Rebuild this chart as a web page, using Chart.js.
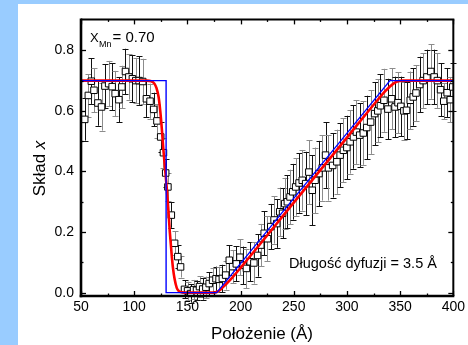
<!DOCTYPE html>
<html>
<head>
<meta charset="utf-8">
<script src="https://cdn.jsdelivr.net/npm/chart.js@4.4.0/dist/chart.umd.min.js"></script>
<style>
  html, body { margin: 0; padding: 0; background: #99ccff; }
  #wrap { position: absolute; left: 18px; top: 4px; width: 450px; height: 341px; background: #fff; }
  canvas { display: block; }
</style>
</head>
<body>
<div id="wrap"><canvas id="profil" width="450" height="341"></canvas></div>
<script>
// punkty pomiarowe
var pozycja = [53.5, 56.9, 59.7, 62.2, 65.9, 69.3, 72.5, 76.0, 79.3, 82.1, 85.6, 88.4, 91.8, 95.0, 98.3,
  101.5, 104.6, 108.0, 111.5, 114.9, 118.3, 121.4, 124.9, 127.5, 129.6, 131.7, 134.9, 138.0, 141.0, 143.6,
  147.3, 150.2, 153.0, 155.8, 158.6, 161.4, 164.4, 167.4, 170.5, 173.7, 176.9, 179.8, 182.9, 186.0, 189.4,
  192.5, 196.0, 199.4, 202.5, 205.5, 209.0, 212.5, 216.0, 219.0, 222.2, 225.3, 228.4, 231.5, 234.0, 236.8,
  239.5, 241.5, 244.0, 246.5, 249.0, 251.8, 255.0, 258.0, 261.2, 264.2, 267.4, 270.0, 273.7, 276.8, 279.9,
  282.6, 286.6, 290.5, 293.6, 296.7, 299.9, 303.0, 306.1, 308.9, 312.0, 315.4, 318.6, 322.3, 326.0, 329.0,
  331.5, 334.8, 338.5, 342.0, 345.2, 348.0, 350.7, 353.5, 356.0, 359.5, 362.3, 364.9, 368.4, 371.6, 375.2,
  378.8, 382.0, 385.0, 388.0, 391.0, 394.2, 397.2, 399.5];
var sklad = [0.572, 0.651, 0.698, 0.668, 0.626, 0.613, 0.682, 0.690, 0.680, 0.657, 0.637, 0.679, 0.730, 0.712, 0.706,
  0.700, 0.700, 0.697, 0.640, 0.632, 0.605, 0.567, 0.514, 0.462, 0.395, 0.349, 0.256, 0.163, 0.119, 0.085,
  0.011, 0.006, -0.003, 0.010, 0.008, 0.020, 0.012, 0.018, 0.030, 0.041, 0.046, 0.044, 0.047, 0.058, 0.107,
  0.086, 0.095, 0.117, 0.090, 0.080, 0.102, 0.098, 0.123, 0.157, 0.196, 0.178, 0.218, 0.240, 0.228, 0.267,
  0.262, 0.294, 0.300, 0.316, 0.333, 0.349, 0.362, 0.371, 0.360, 0.398, 0.338, 0.371, 0.393, 0.412, 0.454,
  0.412, 0.420, 0.432, 0.454, 0.470, 0.479, 0.498, 0.514, 0.530, 0.520, 0.527, 0.545, 0.563, 0.591, 0.600,
  0.617, 0.635, 0.606, 0.640, 0.613, 0.627, 0.615, 0.600, 0.602, 0.635, 0.646, 0.659, 0.687, 0.700, 0.712,
  0.730, 0.712, 0.700, 0.670, 0.632, 0.660, 0.637, 0.679];
var blad = [0.070, 0.070, 0.075, 0.072, 0.075, 0.078, 0.072, 0.075, 0.078, 0.075, 0.075, 0.070, 0.075, 0.075, 0.078,
  0.075, 0.080, 0.075, 0.060, 0.058, 0.055, 0.055, 0.050, 0.050, 0.045, 0.045, 0.042, 0.040, 0.038, 0.035,
  0.030, 0.030, 0.030, 0.032, 0.032, 0.035, 0.035, 0.035, 0.038, 0.040, 0.040, 0.042, 0.045, 0.048, 0.050,
  0.055, 0.058, 0.060, 0.062, 0.065, 0.065, 0.068, 0.070, 0.070, 0.072, 0.075, 0.075, 0.078, 0.080, 0.080,
  0.082, 0.085, 0.088, 0.090, 0.092, 0.095, 0.098, 0.100, 0.105, 0.105, 0.115, 0.108, 0.108, 0.108, 0.108,
  0.108, 0.106, 0.106, 0.105, 0.105, 0.105, 0.105, 0.105, 0.105, 0.105, 0.105, 0.105, 0.105, 0.104, 0.104,
  0.104, 0.104, 0.100, 0.100, 0.100, 0.100, 0.098, 0.095, 0.095, 0.095, 0.095, 0.092, 0.092, 0.090, 0.090,
  0.090, 0.090, 0.090, 0.088, 0.060, 0.080, 0.075, 0.080];

// dopasowanie (czerwona) i profil prostokatny (niebieska)
var modelX = [50, 112, 116, 119, 121, 123, 124.5, 126, 127.5, 129, 130.5, 132, 133.5, 135, 136.5, 138, 140, 142, 145, 150,
  175, 178, 181, 184, 188, 192, 200, 250, 300, 330, 336, 340, 344, 348, 352, 400];
var modelY = [0.70, 0.70, 0.698, 0.69, 0.675, 0.645, 0.60, 0.54, 0.47, 0.41, 0.35, 0.28, 0.20, 0.135, 0.08, 0.045, 0.016, 0.005, 0.001, 0,
  0, 0.003, 0.010, 0.020, 0.034, 0.049, 0.082, 0.297, 0.512, 0.641, 0.665, 0.679, 0.691, 0.698, 0.70, 0.70];
var krokX = [50, 130, 130, 177.6, 340.4, 400];
var krokY = [0.70, 0.70, 0, 0, 0.70, 0.70];

var xTicks = [50, 100, 150, 200, 250, 300, 350, 400];
var xMinor = [75, 125, 175, 225, 275, 325, 375];
var yTicks = [0, 0.2, 0.4, 0.6, 0.8];
var yMinor = [0.1, 0.3, 0.5, 0.7];

var FONT = '"Liberation Sans", Arial, sans-serif';

function pary(xs, ys) {
  var out = [];
  for (var i = 0; i < xs.length; i++) out.push({x: xs[i], y: ys[i]});
  return out;
}

function linia(ctx, x1, y1, x2, y2) {
  ctx.beginPath();
  ctx.moveTo(x1, y1);
  ctx.lineTo(x2, y2);
  ctx.stroke();
}

var dodatki = {
  id: 'dodatki',
  beforeDatasetsDraw: function(chart) {
    var ctx = chart.ctx, sy = chart.scales.y;
    var meta = chart.getDatasetMeta(2);
    ctx.save();
    ctx.lineWidth = 1;
    for (var i = 0; i < meta.data.length; i++) {
      var px = Math.round(meta.data[i].x) + 0.5;
      var top = sy.getPixelForValue(sklad[i] + blad[i]);
      var bot = sy.getPixelForValue(sklad[i] - blad[i]);
      ctx.strokeStyle = i % 2 ? '#8c8c8c' : '#111';
      linia(ctx, px, top, px, bot);
      linia(ctx, px - 3, Math.round(top) + 0.5, px + 3, Math.round(top) + 0.5);
      linia(ctx, px - 3, Math.round(bot) + 0.5, px + 3, Math.round(bot) + 0.5);
    }
    ctx.restore();
  },
  afterDraw: function(chart) {
    var ctx = chart.ctx, a = chart.chartArea;
    var sx = chart.scales.x, sy = chart.scales.y;
    ctx.save();
    ctx.strokeStyle = '#000';
    ctx.lineWidth = 1.3;
    xTicks.forEach(function(v) {
      var p = Math.round(sx.getPixelForValue(v)) + 0.5;
      linia(ctx, p, a.bottom, p, a.bottom - 5);
      linia(ctx, p, a.top, p, a.top + 5);
    });
    xMinor.forEach(function(v) {
      var p = Math.round(sx.getPixelForValue(v)) + 0.5;
      linia(ctx, p, a.bottom, p, a.bottom - 2.5);
      linia(ctx, p, a.top, p, a.top + 2.5);
    });
    yTicks.forEach(function(v) {
      var p = Math.round(sy.getPixelForValue(v)) + 0.5;
      linia(ctx, a.left, p, a.left + 5, p);
      linia(ctx, a.right, p, a.right - 5, p);
    });
    yMinor.forEach(function(v) {
      var p = Math.round(sy.getPixelForValue(v)) + 0.5;
      linia(ctx, a.left, p, a.left + 2.5, p);
      linia(ctx, a.right, p, a.right - 2.5, p);
    });
    // ramka
    ctx.lineWidth = 2;
    linia(ctx, a.left, a.top, a.right + 1, a.top);
    linia(ctx, a.right, a.top, a.right, a.bottom);
    ctx.lineWidth = 2.6;
    linia(ctx, a.left, a.top - 1, a.left, a.bottom + 1.3);
    linia(ctx, a.left - 1.3, a.bottom, a.right + 1, a.bottom);

    ctx.fillStyle = '#000';
    ctx.textBaseline = 'alphabetic';
    // x_Mn = 0.70
    ctx.textAlign = 'left';
    ctx.font = '13px ' + FONT;
    ctx.fillText('X', 72, 37.7);
    ctx.font = '9px ' + FONT;
    ctx.fillText('Mn', 81, 42.5);
    ctx.font = '15px ' + FONT;
    ctx.fillText('= 0.70', 94.5, 37.7);
    // dlugosc dyfuzji
    ctx.font = '14.5px ' + FONT;
    ctx.fillText('Długość dyfuzji = 3.5 Å', 271, 264);
    // tytul osi x
    ctx.font = '17px ' + FONT;
    ctx.textAlign = 'center';
    ctx.fillText('Położenie (Å)', 244, 334.5);
    // tytul osi y
    ctx.translate(27, 164.5);
    ctx.rotate(-Math.PI / 2);
    ctx.textAlign = 'left';
    ctx.font = '17px ' + FONT;
    var w1 = ctx.measureText('Skład ').width;
    ctx.font = 'italic 17px ' + FONT;
    var w2 = ctx.measureText('x').width;
    var x0 = -(w1 + w2) / 2;
    ctx.font = '17px ' + FONT;
    ctx.fillText('Skład ', x0, 0);
    ctx.font = 'italic 17px ' + FONT;
    ctx.fillText('x', x0 + w1, 0);
    ctx.restore();
  }
};

new Chart(document.getElementById('profil'), {
  type: 'scatter',
  data: {
    datasets: [
      {
        data: pary(krokX, krokY),
        showLine: true,
        borderColor: '#0000ff',
        borderWidth: 1.4,
        pointRadius: 0,
        tension: 0
      },
      {
        data: pary(modelX, modelY),
        showLine: true,
        borderColor: '#ff0000',
        borderWidth: 2.6,
        pointRadius: 0,
        cubicInterpolationMode: 'monotone'
      },
      {
        data: pary(pozycja, sklad),
        showLine: false,
        pointStyle: 'rect',
        pointRadius: 4.6,
        pointBorderWidth: 1,
        pointBorderColor: '#000',
        pointBackgroundColor: '#fff'
      }
    ]
  },
  options: {
    responsive: false,
    animation: false,
    devicePixelRatio: 1,
    layout: { padding: { left: 0, top: 15, right: 13, bottom: 0 } },
    plugins: { legend: { display: false }, tooltip: { enabled: false } },
    scales: {
      x: {
        type: 'linear',
        min: 50,
        max: 400,
        afterBuildTicks: function(s) { s.ticks = xTicks.map(function(v) { return {value: v}; }); },
        afterFit: function(s) { s.height = 49; },
        grid: { display: false, drawTicks: false },
        border: { display: false },
        ticks: { padding: 3, color: '#000', font: { family: FONT, size: 14 }, maxRotation: 0 }
      },
      y: {
        type: 'linear',
        min: -0.011,
        max: 0.902,
        afterBuildTicks: function(s) { s.ticks = yTicks.map(function(v) { return {value: v}; }); },
        afterFit: function(s) { s.width = 63; },
        grid: { display: false, drawTicks: false },
        border: { display: false },
        ticks: {
          padding: 7, color: '#000', font: { family: FONT, size: 14 },
          callback: function(v) { return v.toFixed(1); }
        }
      }
    }
  },
  plugins: [dodatki]
});
</script>
</body>
</html>
